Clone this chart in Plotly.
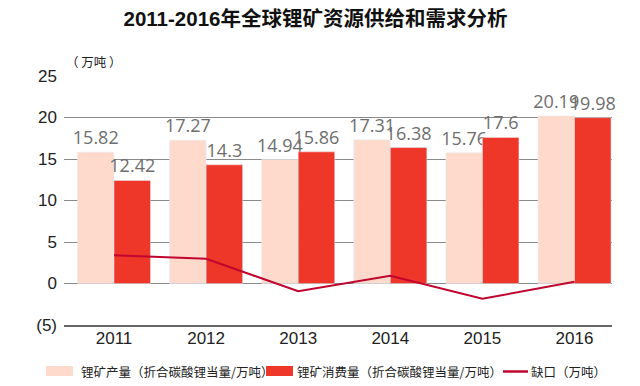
import plotly.graph_objects as go

years = ["2011", "2012", "2013", "2014", "2015", "2016"]
production = [15.82, 17.27, 14.94, 17.31, 15.76, 20.19]
consumption = [12.42, 14.3, 15.86, 16.38, 17.6, 19.98]
gap = [3.40, 2.97, -0.92, 0.93, -1.84, 0.21]
tick_vals = [-5, 0, 5, 10, 15, 20, 25]
tick_text = ["(5)", "0", "5", "10", "15", "20", "25"]
legend_names = ["锂矿产量（折合碳酸锂当量/万吨）", "锂矿消费量（折合碳酸锂当量/万吨）", "缺口（万吨）"]

C_PROD = "#FDDACB"
C_CONS = "#EE3629"
C_GAP = "#C0052E"

# page body has an 8px margin, so the figure is drawn 8px in from the corner
OFF = 8
W, H = 632, 378
L, R, T, B = 56, 28, 68, 61
PW, PH = W - L - R, H - T - B


def px(x):
    return (x - OFF - L) / PW


def py(y):
    return (H - B - (y - OFF)) / PH


label_font = dict(family="Open Sans, DejaVu Sans, sans-serif", size=18, color="#6e6e6e")

fig = go.Figure()
fig.add_trace(go.Bar(
    x=years, y=production, name=legend_names[0],
    marker=dict(color=C_PROD), text=[str(v) for v in production],
    textposition="outside", textfont=label_font, cliponaxis=False, constraintext="none",
))
fig.add_trace(go.Bar(
    x=years, y=consumption, name=legend_names[1],
    marker=dict(color=C_CONS), text=[str(v) for v in consumption],
    textposition="outside", textfont=label_font, cliponaxis=False, constraintext="none",
))
fig.add_trace(go.Scatter(
    x=years, y=gap, name=legend_names[2], mode="lines",
    line=dict(color=C_GAP, width=2),
))

leg_font = dict(family="Noto Sans CJK SC, sans-serif", size=12.5, color="#222")
shapes = [
    dict(type="rect", xref="paper", yref="paper", x0=px(46), x1=px(73), y0=py(376), y1=py(366),
         fillcolor=C_PROD, line=dict(width=0)),
    dict(type="rect", xref="paper", yref="paper", x0=px(266), x1=px(293), y0=py(376), y1=py(366),
         fillcolor=C_CONS, line=dict(width=0)),
    dict(type="line", xref="paper", yref="paper", x0=px(503), x1=px(528), y0=py(371.5), y1=py(371.5),
         line=dict(color=C_GAP, width=2.5)),
]
annotations = [
    dict(text="（ 万吨 ）", xref="paper", yref="paper", x=px(64), y=py(62),
         xanchor="left", yanchor="middle", showarrow=False,
         font=dict(family="Noto Sans CJK SC, sans-serif", size=12.5, color="#222")),
    dict(text=legend_names[0], xref="paper", yref="paper", x=px(79), y=py(371),
         xanchor="left", yanchor="middle", showarrow=False, font=leg_font),
    dict(text=legend_names[1], xref="paper", yref="paper", x=px(295), y=py(371),
         xanchor="left", yanchor="middle", showarrow=False, font=leg_font),
    dict(text=legend_names[2], xref="paper", yref="paper", x=px(529), y=py(371),
         xanchor="left", yanchor="middle", showarrow=False, font=leg_font),
]

fig.update_layout(
    width=W, height=H,
    margin=dict(l=L, r=R, t=T, b=B, autoexpand=False),
    paper_bgcolor="white", plot_bgcolor="white",
    barmode="group", bargap=0.207, bargroupgap=0,
    title=dict(text="<b>2011-2016年全球锂矿资源供给和需求分析</b>",
               x=(315.5 - OFF) / W, xanchor="center", xref="container", yref="container",
               y=1 - (18.5 - OFF) / H, yanchor="middle",
               font=dict(family="Liberation Sans, Noto Sans CJK SC, sans-serif", size=20.5, color="#111")),
    font=dict(family="Liberation Sans, Arial, sans-serif", color="#222"),
    showlegend=False,
    xaxis=dict(type="category", range=[-0.543, 5.407], showgrid=False,
               showline=True, linecolor="#666", linewidth=1.5,
               ticks="", ticklabelstandoff=-3,
               tickfont=dict(size=17, color="#222")),
    yaxis=dict(range=[-5, 25], tickvals=tick_vals, ticktext=tick_text,
               showgrid=True, gridcolor="#8a8a8a", gridwidth=1, zeroline=False,
               showline=False, tickfont=dict(size=17, color="#222"), ticklabelstandoff=6),
    shapes=shapes,
    annotations=annotations,
)

fig.write_html("out.html")
